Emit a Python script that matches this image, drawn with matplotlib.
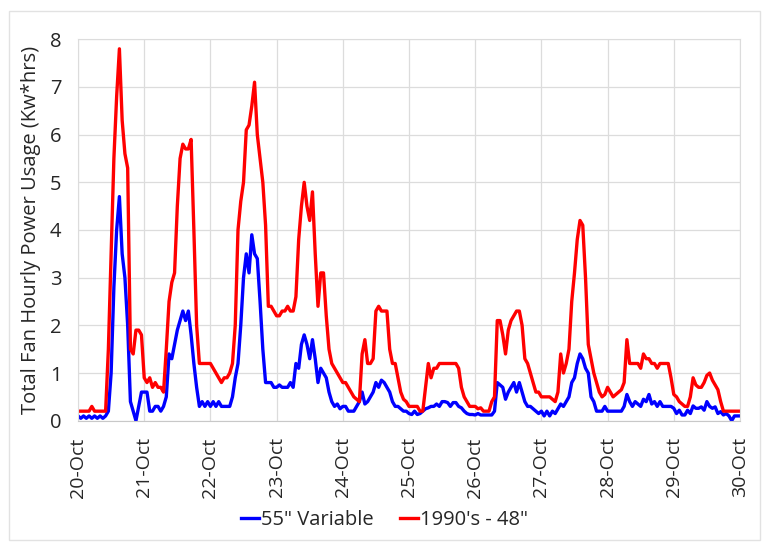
import pandas as pd
import matplotlib
matplotlib.use("Agg")
import matplotlib.pyplot as plt
import matplotlib.dates as mdates
from matplotlib.patches import Rectangle

plt.rcParams['font.family'] = ['Open Sans', 'DejaVu Sans']

# hourly readings, one list per day (20-Oct .. 29-Oct) plus the 30-Oct 00:00 point
red_20 = [0.2, 0.2, 0.2, 0.2, 0.2, 0.3, 0.2, 0.2, 0.2, 0.2, 0.2, 1.5, 3.5, 5.5, 6.8, 7.8, 6.3, 5.6, 5.3, 1.5, 1.4, 1.9, 1.9, 1.8]
red_21 = [0.9, 0.8, 0.9, 0.7, 0.8, 0.7, 0.7, 0.6, 1.5, 2.5, 2.9, 3.1, 4.5, 5.5, 5.8, 5.7, 5.7, 5.9, 4.0, 2.0, 1.2, 1.2, 1.2, 1.2]
red_22 = [1.2, 1.1, 1.0, 0.9, 0.8, 0.9, 0.9, 1.0, 1.2, 2.0, 4.0, 4.6, 5.0, 6.1, 6.2, 6.6, 7.1, 6.0, 5.5, 5.0, 4.1, 2.4, 2.4, 2.3]
red_23 = [2.2, 2.2, 2.3, 2.3, 2.4, 2.3, 2.3, 2.6, 3.8, 4.5, 5.0, 4.5, 4.2, 4.8, 3.5, 2.4, 3.1, 3.1, 2.2, 1.5, 1.2, 1.1, 1.0, 0.9]
red_24 = [0.8, 0.8, 0.7, 0.6, 0.5, 0.45, 0.4, 1.4, 1.7, 1.2, 1.2, 1.3, 2.3, 2.4, 2.3, 2.3, 2.3, 1.5, 1.2, 1.2, 0.9, 0.6, 0.45, 0.4]
red_25 = [0.3, 0.3, 0.3, 0.3, 0.2, 0.2, 0.7, 1.2, 0.9, 1.1, 1.1, 1.2, 1.2, 1.2, 1.2, 1.2, 1.2, 1.2, 1.1, 0.7, 0.5, 0.4, 0.3, 0.3]
red_26 = [0.3, 0.25, 0.27, 0.2, 0.2, 0.2, 0.4, 0.5, 2.1, 2.1, 1.8, 1.4, 1.9, 2.1, 2.2, 2.3, 2.3, 2.0, 1.3, 1.2, 1.0, 0.8, 0.6, 0.6]
red_27 = [0.5, 0.5, 0.5, 0.5, 0.45, 0.4, 0.6, 1.4, 1.0, 1.2, 1.5, 2.5, 3.1, 3.8, 4.2, 4.1, 3.0, 1.6, 1.3, 1.0, 0.8, 0.6, 0.5, 0.55]
red_28 = [0.7, 0.6, 0.5, 0.55, 0.6, 0.65, 0.8, 1.7, 1.2, 1.2, 1.2, 1.2, 1.1, 1.4, 1.3, 1.3, 1.2, 1.2, 1.1, 1.2, 1.2, 1.2, 1.2, 0.9]
red_29 = [0.55, 0.5, 0.4, 0.35, 0.3, 0.3, 0.5, 0.9, 0.75, 0.7, 0.7, 0.8, 0.95, 1.0, 0.85, 0.75, 0.65, 0.4, 0.2, 0.2, 0.2, 0.2, 0.2, 0.2]
red_30 = [0.2]

blue_20 = [0.1, 0.05, 0.1, 0.05, 0.1, 0.05, 0.1, 0.05, 0.1, 0.05, 0.1, 0.2, 1.0, 2.8, 4.0, 4.7, 3.5, 3.0, 2.0, 0.4, 0.2, 0.0, 0.3, 0.6]
blue_21 = [0.6, 0.6, 0.2, 0.2, 0.3, 0.3, 0.2, 0.3, 0.5, 1.4, 1.3, 1.6, 1.9, 2.1, 2.3, 2.1, 2.3, 1.8, 1.2, 0.7, 0.3, 0.4, 0.3, 0.4]
blue_22 = [0.3, 0.4, 0.3, 0.4, 0.3, 0.3, 0.3, 0.3, 0.5, 0.9, 1.2, 2.0, 3.0, 3.5, 3.1, 3.9, 3.5, 3.4, 2.5, 1.5, 0.8, 0.8, 0.8, 0.7]
blue_23 = [0.7, 0.75, 0.7, 0.7, 0.7, 0.8, 0.7, 1.2, 1.1, 1.6, 1.8, 1.6, 1.3, 1.7, 1.3, 0.8, 1.1, 1.0, 0.9, 0.6, 0.4, 0.3, 0.35, 0.25]
blue_24 = [0.3, 0.3, 0.2, 0.2, 0.2, 0.3, 0.4, 0.6, 0.35, 0.4, 0.5, 0.6, 0.8, 0.7, 0.85, 0.8, 0.7, 0.6, 0.4, 0.3, 0.3, 0.25, 0.2, 0.2]
blue_25 = [0.15, 0.13, 0.2, 0.13, 0.15, 0.2, 0.25, 0.27, 0.3, 0.3, 0.35, 0.3, 0.4, 0.4, 0.38, 0.3, 0.38, 0.38, 0.3, 0.27, 0.2, 0.15, 0.13, 0.13]
blue_26 = [0.12, 0.15, 0.12, 0.12, 0.12, 0.12, 0.12, 0.2, 0.8, 0.75, 0.7, 0.45, 0.6, 0.7, 0.8, 0.6, 0.8, 0.6, 0.4, 0.3, 0.3, 0.25, 0.2, 0.15]
blue_27 = [0.2, 0.1, 0.2, 0.1, 0.2, 0.15, 0.25, 0.35, 0.3, 0.4, 0.5, 0.8, 0.9, 1.2, 1.4, 1.3, 1.1, 1.0, 0.5, 0.4, 0.2, 0.2, 0.2, 0.3]
blue_28 = [0.2, 0.2, 0.2, 0.2, 0.2, 0.2, 0.3, 0.55, 0.4, 0.3, 0.4, 0.35, 0.3, 0.45, 0.4, 0.55, 0.35, 0.4, 0.3, 0.4, 0.3, 0.3, 0.3, 0.3]
blue_29 = [0.26, 0.15, 0.22, 0.12, 0.12, 0.22, 0.15, 0.31, 0.26, 0.26, 0.29, 0.22, 0.4, 0.3, 0.26, 0.29, 0.15, 0.19, 0.12, 0.15, 0.1, 0.0, 0.1, 0.1]
blue_30 = [0.1]

red = (red_20 + red_21 + red_22 + red_23 + red_24 + red_25 + red_26 + red_27
       + red_28 + red_29 + red_30)
blue = (blue_20 + blue_21 + blue_22 + blue_23 + blue_24 + blue_25 + blue_26 + blue_27
        + blue_28 + blue_29 + blue_30)

times = pd.date_range("2019-10-20 00:00", periods=len(red), freq="h")

fig = plt.figure(figsize=(7.62, 5.42), dpi=100)
ax = fig.add_axes([0.1024, 0.2238, 0.8687, 0.7037])

ax.plot(times, blue, color="#0000ff", lw=2.4, label='55" Variable')
ax.plot(times, red, color="#ff0000", lw=2.4, label="1990's - 48\"")

ax.set_xlim(times[0], times[-1])
ax.set_ylim(0, 8)
ax.set_yticks(range(0, 9))
ax.xaxis.set_major_locator(mdates.DayLocator())
ax.xaxis.set_major_formatter(mdates.DateFormatter("%d-%b"))
ax.tick_params(axis="x", rotation=90, length=0, pad=12, labelsize=14, colors="#262626")
ax.tick_params(axis="y", length=0, pad=12, labelsize=14.5, colors="#262626")
ax.grid(True, color="#dcdcdc", lw=0.9)
ax.set_axisbelow(True)
for s in ax.spines.values():
    s.set_color("#dcdcdc")
ax.spines["bottom"].set_color("#c8c8c8")

ax.set_ylabel("Total Fan Hourly Power Usage (Kw*hrs)", fontsize=14.5, color="#262626", labelpad=6)

fig.legend(loc="center", bbox_to_anchor=(0.505, 0.04), ncol=2, frameon=False,
           fontsize=14.5, handlelength=0.9, handletextpad=0.1, columnspacing=1.3,
           labelcolor="#262626")

fig.patches.append(Rectangle((0.012, 0.004), 0.985, 0.976, transform=fig.transFigure,
                             fill=False, edgecolor="#e2e2e2", lw=1))

fig.savefig("out.png", dpi=100)
